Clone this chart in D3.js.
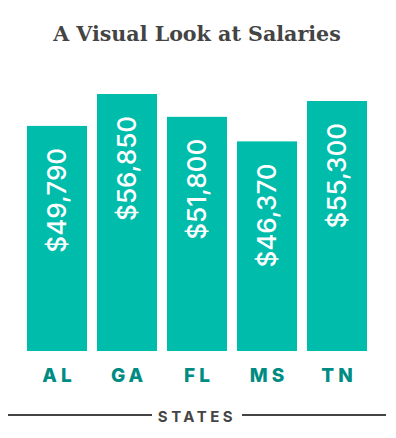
<!DOCTYPE html>
<html><head><meta charset="utf-8">
<script src="https://cdn.jsdelivr.net/npm/d3@7"></script>
<style>html,body{margin:0;padding:0;background:#fff;}svg{display:block;}</style>
</head><body>
<svg id="c" width="396" height="438"></svg>
<script>
const categories = ["AL", "GA", "FL", "MS", "TN"];
const salaries = [49790, 56850, 51800, 46370, 55300];
const title = "A Visual Look at Salaries";
const axisTitle = "STATES";

const svg = d3.select("#c");
const x = d3.scaleBand().domain(categories).range([22, 372]).paddingInner(1/7).paddingOuter(1/14);
const y = d3.scaleLinear().domain([0, d3.max(salaries)]).range([351, 94]);
const fmt = d3.format("$,");

svg.append("text").attr("x", 197).attr("y", 41).attr("text-anchor", "middle")
  .attr("font-family", "DejaVu Serif").attr("font-weight", "bold").attr("font-size", 20.6)
  .attr("fill", "#444").text(title);

const data = categories.map((c, i) => ({c, v: salaries[i]}));

svg.selectAll("rect.bar").data(data).join("rect").attr("class", "bar")
  .attr("x", d => x(d.c)).attr("width", x.bandwidth())
  .attr("y", d => y(d.v)).attr("height", d => y(0) - y(d.v))
  .attr("fill", "#00bcab");

svg.selectAll("text.val").data(data).join("text").attr("class", "val")
  .attr("transform", d => `translate(${x(d.c) + x.bandwidth()/2},${y(d.v) + 22}) rotate(-90)`)
  .attr("text-anchor", "end").attr("dy", "0.36em")
  .attr("font-family", "Inter").attr("font-weight", 500).attr("font-size", 26)
  .attr("fill", "#fff").text(d => fmt(d.v));

svg.selectAll("text.cat").data(data).join("text").attr("class", "cat")
  .attr("x", d => x(d.c) + x.bandwidth()/2 + 2).attr("y", 382)
  .attr("text-anchor", "middle")
  .attr("font-family", "Inter").attr("font-weight", 800).attr("font-size", 19)
  .attr("letter-spacing", 4).attr("fill", "#008c82").text(d => d.c);

svg.append("line").attr("x1", 8).attr("x2", 152).attr("y1", 415).attr("y2", 415)
  .attr("stroke", "#444").attr("stroke-width", 2);
svg.append("line").attr("x1", 242).attr("x2", 386).attr("y1", 415).attr("y2", 415)
  .attr("stroke", "#444").attr("stroke-width", 2);
svg.append("text").attr("x", 197).attr("y", 422).attr("text-anchor", "middle")
  .attr("font-family", "Inter").attr("font-weight", 700).attr("font-size", 15)
  .attr("letter-spacing", 3.5).attr("fill", "#444").text(axisTitle);
</script>
</body></html>
